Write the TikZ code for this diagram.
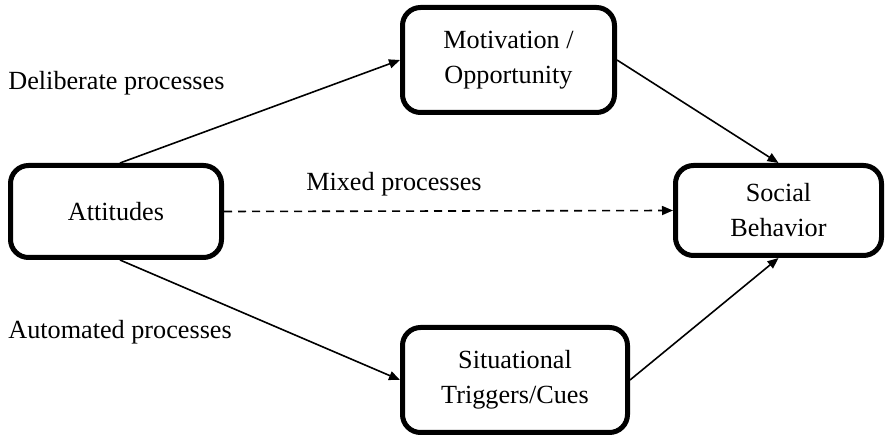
\documentclass[tikz,border=0pt]{standalone}
\usepackage{fontspec}
\setmainfont{Liberation Serif}
\usetikzlibrary{arrows.meta}
\begin{document}
\begin{tikzpicture}[x=0.5pt,y=-0.5pt,
  box/.style={draw, line width=2.5pt, rounded corners=9pt, align=center, inner sep=0pt,
    font=\fontsize{13.1}{17.5}\selectfont},
  lbl/.style={font=\fontsize{13.1}{17.5}\selectfont, inner sep=0pt},
  conn/.style={line width=0.8pt, -{Triangle[length=5.5pt,width=4.5pt]}}]
\useasboundingbox (0,0) rectangle (885,438);
\node[box, minimum width=105.5pt, minimum height=46pt] (att) at (116,211.5) {Attitudes};
\node[box, minimum width=106pt, minimum height=52.5pt] (mot) at (508.5,60) {Motivation /\\Opportunity};
\node[box, minimum width=112.5pt, minimum height=52.5pt] (sit) at (515,380) {Situational\\Triggers/Cues};
\node[box, minimum width=103pt, minimum height=45pt] (soc) at (778.5,210.5) {Social\\Behavior};
\node[lbl, anchor=west] (delib) at (8,83) {Deliberate processes};
\node[lbl] (mixed) at (394,184) {Mixed processes};
\node[lbl, anchor=west] (auto) at (8,332) {Automated processes};
\draw[conn] ([xshift=2pt]att.north) -- (mot.west);
\draw[conn] ([xshift=2pt]att.south) -- (sit.west);
\draw[conn] (mot.east) -- (soc.north);
\draw[conn] (sit.east) -- (soc.south);
\draw[conn, dashed, dash pattern=on 4pt off 3pt] (att.east) -- (soc.west);
\end{tikzpicture}
\end{document}
